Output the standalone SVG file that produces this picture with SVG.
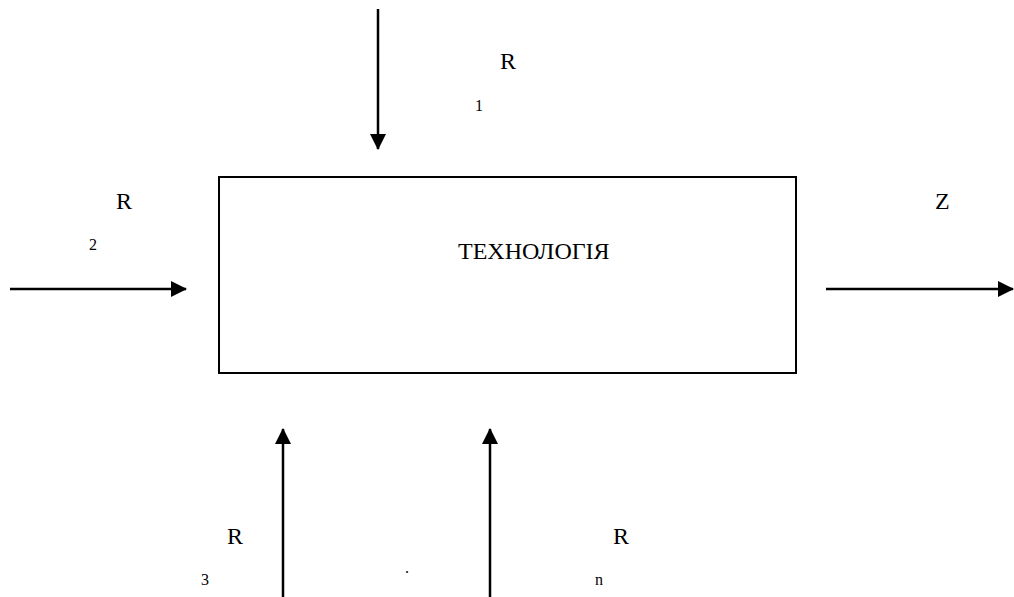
<svg xmlns="http://www.w3.org/2000/svg" width="1014" height="597" viewBox="0 0 1014 597">
<style>
.t{font-family:"Liberation Serif","Times New Roman",serif;fill:#000}
.big{font-size:24px}
.sub{font-size:16px}
.ln{stroke:#000;stroke-width:2.5;fill:none}
</style>
<defs>
<marker id="ah" markerUnits="userSpaceOnUse" markerWidth="16" markerHeight="16" refX="15" refY="8" orient="auto">
<path d="M0,0 L16,8 L0,16 Z" fill="#000"/>
</marker>
</defs>
<rect width="1014" height="597" fill="#fff"/>
<g id="technology">
<rect x="219" y="177" width="577" height="196" fill="#fff" stroke="#000" stroke-width="2"/>
<text class="t big" x="458" y="259">ТЕХНОЛОГІЯ</text>
</g>
<g id="connectors">
<line class="ln" x1="378" y1="9" x2="378" y2="149" marker-end="url(#ah)"/>
<line class="ln" x1="10" y1="289" x2="186" y2="289" marker-end="url(#ah)"/>
<line class="ln" x1="826" y1="289" x2="1013" y2="289" marker-end="url(#ah)"/>
<line class="ln" x1="283" y1="597" x2="283" y2="429" marker-end="url(#ah)"/>
<line class="ln" x1="490" y1="597" x2="490" y2="429" marker-end="url(#ah)"/>
</g>
<g id="labels">
<text class="t big" x="500" y="69">R</text>
<text class="t sub" x="475" y="111">1</text>
<text class="t big" x="116" y="209">R</text>
<text class="t sub" x="89" y="250">2</text>
<text class="t big" x="935" y="209">Z</text>
<text class="t big" x="227" y="544">R</text>
<text class="t sub" x="201" y="585">3</text>
<text class="t sub" x="405" y="573">.</text>
<text class="t big" x="613" y="544">R</text>
<text class="t sub" x="595" y="585">n</text>
</g>
</svg>
